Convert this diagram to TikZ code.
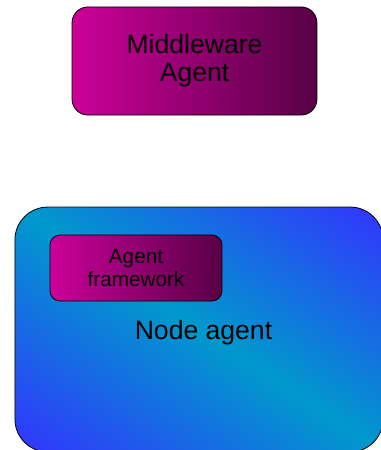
\documentclass[tikz,border=0pt]{standalone}
\usepackage{fontspec}
\setmainfont{Liberation Sans}
\usepackage{xcolor}
\usetikzlibrary{positioning}

\definecolor{magLeft}{RGB}{204,0,153}
\definecolor{magRight}{RGB}{88,0,70}
\definecolor{nodeBlue}{RGB}{51,51,255}
\definecolor{nodeCyan}{RGB}{0,153,204}
\pgfdeclareverticalshading{hostshade}{100bp}{color(0bp)=(nodeBlue); color(15bp)=(nodeBlue); color(50bp)=(nodeCyan); color(85bp)=(nodeBlue); color(100bp)=(nodeBlue)}

\begin{document}
\begin{tikzpicture}[
        agent/.style={draw, line width=0.6pt, rounded corners=0.42cm, left color=magLeft, right color=magRight, minimum width=6.48cm, minimum height=2.86cm, align=center, font=\fontsize{20}{21}\selectfont},
        framework/.style={draw, line width=0.6pt, rounded corners=0.27cm, left color=magLeft, right color=magRight, minimum width=4.55cm, minimum height=1.75cm, align=center, font=\fontsize{15.6}{17}\selectfont},
        host/.style={draw, line width=0.6pt, rounded corners=0.87cm, shading=hostshade, shading angle=-33.7, minimum width=9.74cm, minimum height=6.48cm}
    ]
        \useasboundingbox (0,0) rectangle (10.08,-11.906);

        % Middleware on top
        \node[agent] (mw) at (5.146,-1.614) {Middleware\\Agent};

        % Node agent with its framework
        \node[host] (host) at (5.265,-8.718) {};
        \node[framework] (fw) at (3.598,-7.091) {Agent\\framework};
        \node[anchor=base, font=\fontsize{20}{21}\selectfont] (hostlbl) at (5.384,-8.97) {Node agent};
    \end{tikzpicture}
\end{document}
